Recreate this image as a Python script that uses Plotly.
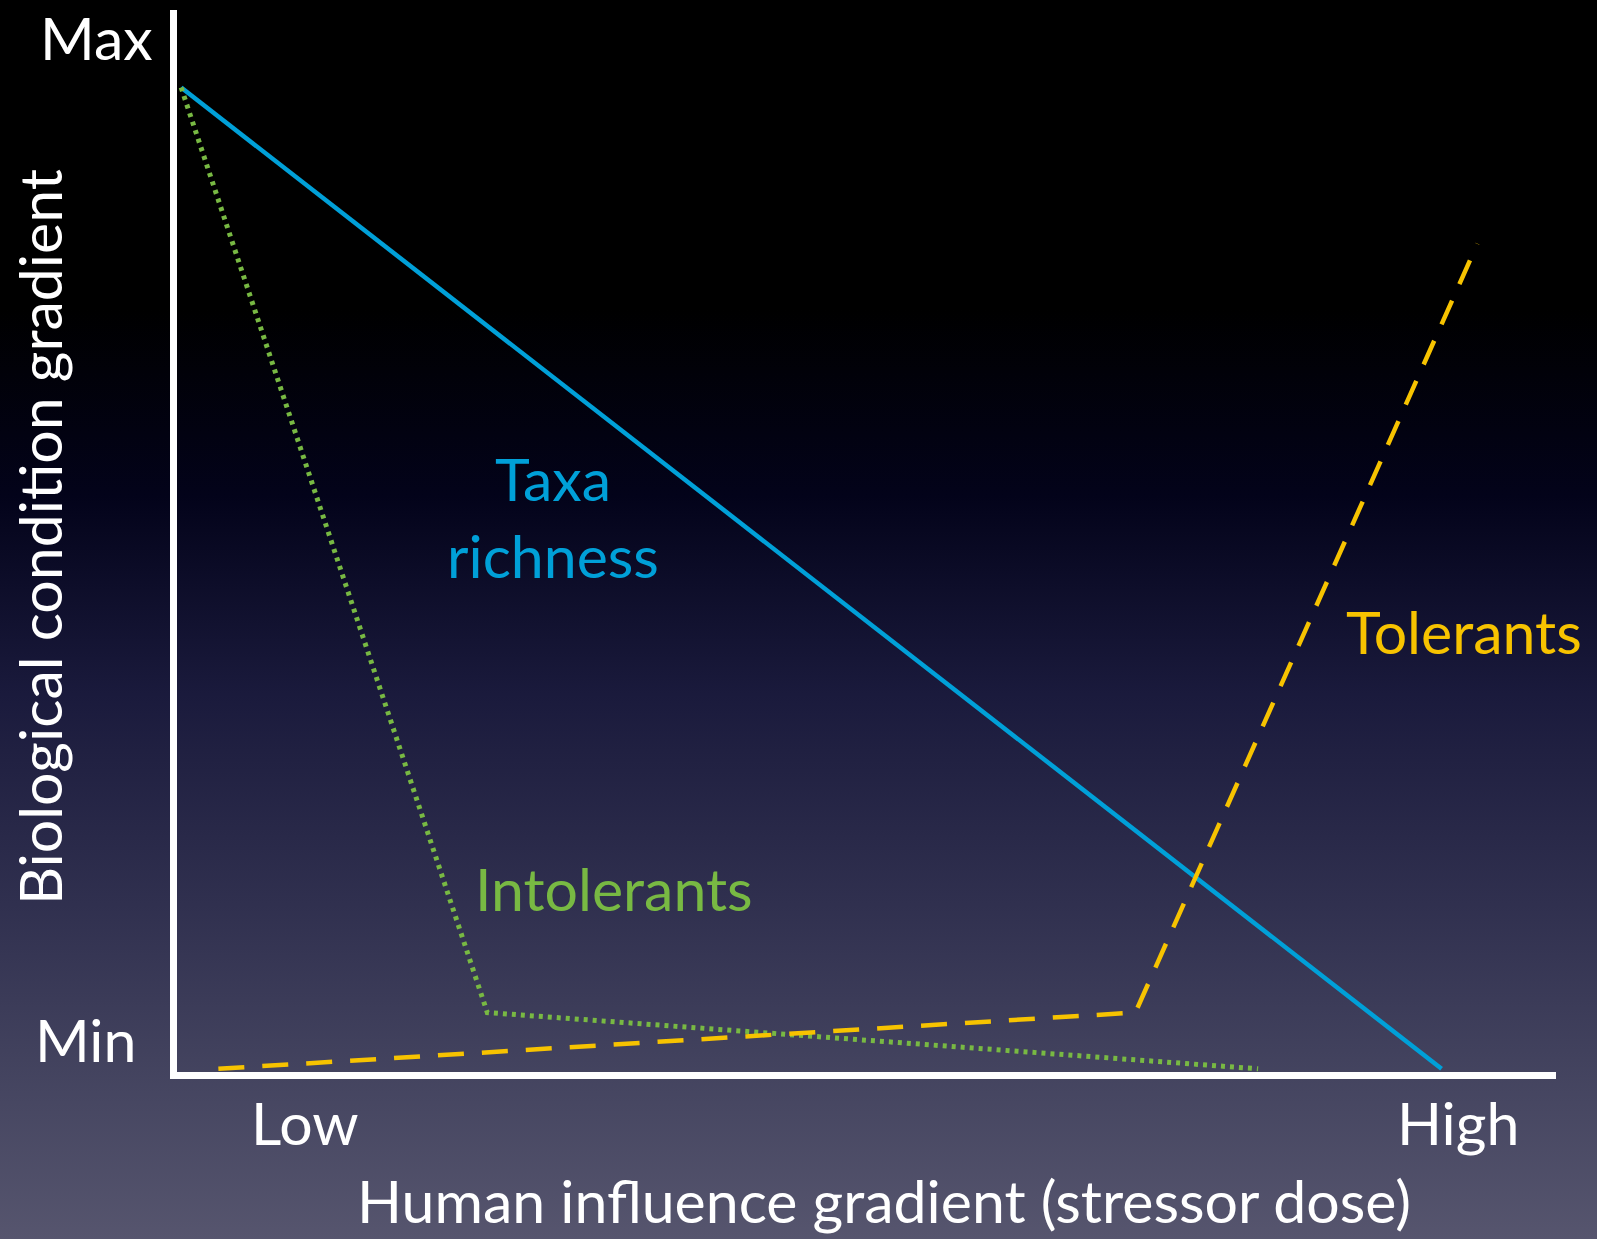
import base64
import plotly.graph_objects as go

# ---- data (dose 0..100 on x, condition 0..100 on y) ----
taxa_x = [0.3, 91.7]
taxa_y = [92.7, 0.3]
intol_x = [0.3, 22.5, 78.4]
intol_y = [92.7, 5.6, 0.3]
tol_x = [3.0, 69.5, 94.3]
tol_y = [0.3, 5.6, 78.0]

y_tick_labels = ["Max", "Min"]
x_tick_labels = ["Low", "High"]
x_title = "Human influence gradient (stressor dose)"
y_title = "Biological condition gradient"

BLUE = "#00a0d8"
GREEN = "#78b943"
YELLOW = "#f7c300"
FONT = "Lato, 'Open Sans', sans-serif"

W, H = 1597, 1239

# background gradient as svg image
svg = f"""<svg xmlns='http://www.w3.org/2000/svg' width='{W}' height='{H}' preserveAspectRatio='none'>
<defs><linearGradient id='g' x1='0' y1='0' x2='0' y2='1'>
<stop offset='0' stop-color='#000000'/>
<stop offset='0.25' stop-color='#000000'/>
<stop offset='0.40' stop-color='#03031a'/>
<stop offset='0.56' stop-color='#1a1a3c'/>
<stop offset='0.73' stop-color='#30304f'/>
<stop offset='0.89' stop-color='#474762'/>
<stop offset='1' stop-color='#56556e'/>
</linearGradient></defs>
<rect x='0' y='0' width='{W}' height='{H}' fill='url(#g)'/></svg>"""
bg_uri = "data:image/svg+xml;base64," + base64.b64encode(svg.encode()).decode()

fig = go.Figure()
fig.add_trace(go.Scatter(x=taxa_x, y=taxa_y, mode="lines",
                         line=dict(color=BLUE, width=4.5), hoverinfo="skip"))
fig.add_trace(go.Scatter(x=intol_x, y=intol_y, mode="lines",
                         line=dict(color=GREEN, width=5, dash="4px,5px"), hoverinfo="skip"))
fig.add_trace(go.Scatter(x=tol_x, y=tol_y, mode="lines",
                         line=dict(color=YELLOW, width=4.5, dash="26px,18px"), hoverinfo="skip"))

def px_x(p):
    return p / W

def px_y(p):
    return 1 - p / H

x0, x1 = 177, 1556
y0, y1 = 1072, 10

fig.update_layout(
    width=W, height=H,
    margin=dict(l=0, r=0, t=0, b=0),
    paper_bgcolor="#000000",
    plot_bgcolor="rgba(0,0,0,0)",
    showlegend=False,
    xaxis=dict(domain=[px_x(x0), px_x(x1)], range=[0, 100], showgrid=False,
               zeroline=False, showticklabels=False, ticks="",
               showline=True, linecolor="white", linewidth=7),
    yaxis=dict(domain=[px_y(y0), px_y(y1)], range=[0, 100], showgrid=False,
               zeroline=False, showticklabels=False, ticks="",
               showline=True, linecolor="white", linewidth=7),
    images=[dict(source=bg_uri, xref="paper", yref="paper", x=0, y=1,
                 sizex=1, sizey=1, sizing="stretch", layer="below")],
)

white = dict(family=FONT, size=59, color="white")
ann = []
ann.append(dict(text=y_tick_labels[0], x=px_x(155), y=px_y(38), xanchor="right", yanchor="middle"))
ann.append(dict(text=y_tick_labels[1], x=px_x(138), y=px_y(1039), xanchor="right", yanchor="middle"))
ann.append(dict(text=x_tick_labels[0], x=px_x(305), y=px_y(1122), xanchor="center", yanchor="middle"))
ann.append(dict(text=x_tick_labels[1], x=px_x(1458), y=px_y(1122), xanchor="center", yanchor="middle"))
ann.append(dict(text=x_title, x=px_x(884), y=px_y(1200), xanchor="center", yanchor="middle"))
ann.append(dict(text=y_title, x=px_x(39), y=px_y(537), xanchor="center", yanchor="middle", textangle=-90))
for a in ann:
    fig.add_annotation(xref="paper", yref="paper", showarrow=False, font=white, **a)

fig.add_annotation(x=27.3, y=52.3, text="Taxa<br>richness", showarrow=False,
                   font=dict(family=FONT, size=59, color=BLUE), align="center")
fig.add_annotation(x=31.7, y=17.3, text="Intolerants", showarrow=False,
                   font=dict(family=FONT, size=59, color=GREEN))
fig.add_annotation(x=93.3, y=41.5, text="Tolerants", showarrow=False,
                   font=dict(family=FONT, size=59, color=YELLOW))

fig.write_html("out.html", config={"displayModeBar": False},
               post_script="document.body.style.margin='0px';document.body.style.background='#000';")
